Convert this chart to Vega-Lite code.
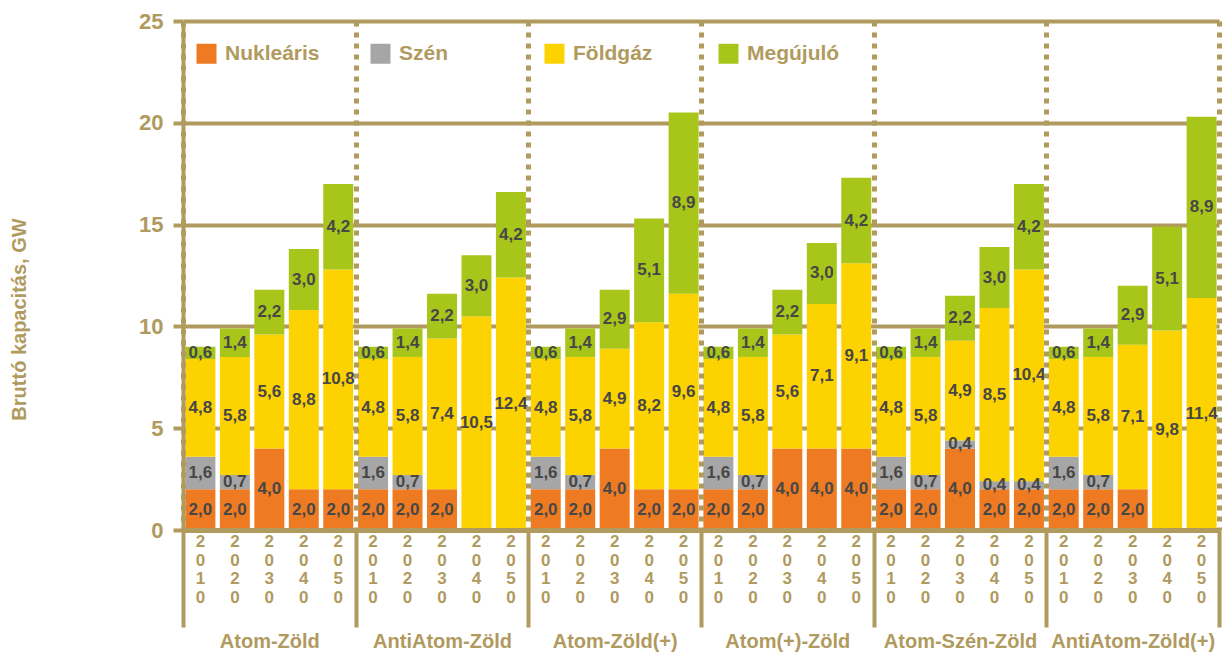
{
  "$schema": "https://vega.github.io/schema/vega-lite/v6.json",
  "width": 1036,
  "height": 509,
  "autosize": "none",
  "padding": {"left": 183, "top": 21, "right": 3, "bottom": 122},
  "background": "white",
  "config": {
    "view": {"stroke": null},
    "font": "Liberation Sans"
  },
  "data": {
    "values": [
      {"s": "Atom-Zöld", "y": "2010", "Nukleáris": 2.0, "Szén": 1.6, "Földgáz": 4.8, "Megújuló": 0.6},
      {"s": "Atom-Zöld", "y": "2020", "Nukleáris": 2.0, "Szén": 0.7, "Földgáz": 5.8, "Megújuló": 1.4},
      {"s": "Atom-Zöld", "y": "2030", "Nukleáris": 4.0, "Földgáz": 5.6, "Megújuló": 2.2},
      {"s": "Atom-Zöld", "y": "2040", "Nukleáris": 2.0, "Földgáz": 8.8, "Megújuló": 3.0},
      {"s": "Atom-Zöld", "y": "2050", "Nukleáris": 2.0, "Földgáz": 10.8, "Megújuló": 4.2},
      {"s": "AntiAtom-Zöld", "y": "2010", "Nukleáris": 2.0, "Szén": 1.6, "Földgáz": 4.8, "Megújuló": 0.6},
      {"s": "AntiAtom-Zöld", "y": "2020", "Nukleáris": 2.0, "Szén": 0.7, "Földgáz": 5.8, "Megújuló": 1.4},
      {"s": "AntiAtom-Zöld", "y": "2030", "Nukleáris": 2.0, "Földgáz": 7.4, "Megújuló": 2.2},
      {"s": "AntiAtom-Zöld", "y": "2040", "Földgáz": 10.5, "Megújuló": 3.0},
      {"s": "AntiAtom-Zöld", "y": "2050", "Földgáz": 12.4, "Megújuló": 4.2},
      {"s": "Atom-Zöld(+)", "y": "2010", "Nukleáris": 2.0, "Szén": 1.6, "Földgáz": 4.8, "Megújuló": 0.6},
      {"s": "Atom-Zöld(+)", "y": "2020", "Nukleáris": 2.0, "Szén": 0.7, "Földgáz": 5.8, "Megújuló": 1.4},
      {"s": "Atom-Zöld(+)", "y": "2030", "Nukleáris": 4.0, "Földgáz": 4.9, "Megújuló": 2.9},
      {"s": "Atom-Zöld(+)", "y": "2040", "Nukleáris": 2.0, "Földgáz": 8.2, "Megújuló": 5.1},
      {"s": "Atom-Zöld(+)", "y": "2050", "Nukleáris": 2.0, "Földgáz": 9.6, "Megújuló": 8.9},
      {"s": "Atom(+)-Zöld", "y": "2010", "Nukleáris": 2.0, "Szén": 1.6, "Földgáz": 4.8, "Megújuló": 0.6},
      {"s": "Atom(+)-Zöld", "y": "2020", "Nukleáris": 2.0, "Szén": 0.7, "Földgáz": 5.8, "Megújuló": 1.4},
      {"s": "Atom(+)-Zöld", "y": "2030", "Nukleáris": 4.0, "Földgáz": 5.6, "Megújuló": 2.2},
      {"s": "Atom(+)-Zöld", "y": "2040", "Nukleáris": 4.0, "Földgáz": 7.1, "Megújuló": 3.0},
      {"s": "Atom(+)-Zöld", "y": "2050", "Nukleáris": 4.0, "Földgáz": 9.1, "Megújuló": 4.2},
      {"s": "Atom-Szén-Zöld", "y": "2010", "Nukleáris": 2.0, "Szén": 1.6, "Földgáz": 4.8, "Megújuló": 0.6},
      {"s": "Atom-Szén-Zöld", "y": "2020", "Nukleáris": 2.0, "Szén": 0.7, "Földgáz": 5.8, "Megújuló": 1.4},
      {"s": "Atom-Szén-Zöld", "y": "2030", "Nukleáris": 4.0, "Szén": 0.4, "Földgáz": 4.9, "Megújuló": 2.2},
      {"s": "Atom-Szén-Zöld", "y": "2040", "Nukleáris": 2.0, "Szén": 0.4, "Földgáz": 8.5, "Megújuló": 3.0},
      {"s": "Atom-Szén-Zöld", "y": "2050", "Nukleáris": 2.0, "Szén": 0.4, "Földgáz": 10.4, "Megújuló": 4.2},
      {"s": "AntiAtom-Zöld(+)", "y": "2010", "Nukleáris": 2.0, "Szén": 1.6, "Földgáz": 4.8, "Megújuló": 0.6},
      {"s": "AntiAtom-Zöld(+)", "y": "2020", "Nukleáris": 2.0, "Szén": 0.7, "Földgáz": 5.8, "Megújuló": 1.4},
      {"s": "AntiAtom-Zöld(+)", "y": "2030", "Nukleáris": 2.0, "Földgáz": 7.1, "Megújuló": 2.9},
      {"s": "AntiAtom-Zöld(+)", "y": "2040", "Földgáz": 9.8, "Megújuló": 5.1},
      {"s": "AntiAtom-Zöld(+)", "y": "2050", "Földgáz": 11.4, "Megújuló": 8.9}
    ]
  },
  "transform": [
    {"fold": ["Nukleáris", "Szén", "Földgáz", "Megújuló"], "as": ["c", "v"]},
    {"filter": "datum.v > 0"},
    {"calculate": "indexof(['Nukleáris','Szén','Földgáz','Megújuló'], datum.c)", "as": "o"},
    {"stack": "v", "groupby": ["s", "y"], "sort": [{"field": "o", "order": "ascending"}], "as": ["v0", "v1"]},
    {"calculate": "(datum.v0 + datum.v1) / 2", "as": "mid"},
    {"calculate": "replace(format(datum.v, '.1f'), '.', ',')", "as": "lbl"}
  ],
  "encoding": {
    "x": {
      "field": "s",
      "type": "nominal",
      "sort": ["Atom-Zöld", "AntiAtom-Zöld", "Atom-Zöld(+)", "Atom(+)-Zöld", "Atom-Szén-Zöld", "AntiAtom-Zöld(+)"],
      "scale": {"paddingInner": 0, "paddingOuter": 0},
      "axis": {
        "title": null,
        "labelAngle": 0,
        "tickBand": "extent",
        "grid": true,
        "gridColor": "#B09A5E",
        "gridWidth": 5,
        "gridDash": [5, 6],
        "domainColor": "#B09A5E",
        "domainWidth": 5,
        "ticks": true,
        "tickColor": "#B09A5E",
        "tickWidth": 4,
        "tickSize": 97,
        "labelPadding": 4,
        "labelFont": "Liberation Sans",
        "labelFontSize": 20,
        "labelFontWeight": "bold",
        "labelColor": "#B09A5E",
        "labelLimit": 400,
        "labelOverlap": false,
        "labelFlush": false,
        "zindex": 1
      }
    },
    "xOffset": {
      "field": "y",
      "type": "nominal",
      "scale": {"paddingInner": 0.13, "paddingOuter": 0.07}
    }
  },
  "resolve": {"axis": {"y": "independent"}},
  "layer": [
    {
      "mark": {"type": "bar"},
      "encoding": {
        "y": {
          "field": "v0",
          "type": "quantitative",
          "scale": {"domain": [0, 25], "nice": false},
          "axis": {
            "orient": "left",
            "title": "Bruttó kapacitás, GW",
            "titleFont": "Liberation Sans",
            "titleFontSize": 20,
            "titleFontWeight": "bold",
            "titleColor": "#B09A5E",
            "titleX": -164,
            "titleY": 298,
            "titleAngle": -90,
            "titleBaseline": "middle",
            "titleAlign": "center",
            "values": [0, 5, 10, 15, 20, 25],
            "grid": false,
            "domainColor": "#B09A5E",
            "domainWidth": 4,
            "tickColor": "#B09A5E",
            "tickWidth": 4,
            "tickSize": 10,
            "labelPadding": 10,
            "labelFont": "Liberation Sans",
            "labelFontSize": 22,
            "labelFontWeight": "bold",
            "labelColor": "#B09A5E",
            "zindex": 2
          }
        },
        "y2": {"field": "v1"},
        "color": {
          "field": "c",
          "type": "nominal",
          "scale": {
            "domain": ["Nukleáris", "Szén", "Földgáz", "Megújuló"],
            "range": ["#EE7B22", "#A6A6A6", "#FCD200", "#A8C61A"]
          },
          "legend": {
            "title": null,
            "orient": "none",
            "legendX": 13,
            "legendY": 22,
            "direction": "horizontal",
            "columns": 4,
            "gridAlign": "all",
            "columnPadding": 50,
            "symbolType": "square",
            "symbolSize": 400,
            "symbolStrokeWidth": 0,
            "labelOffset": 8,
            "labelFont": "Liberation Sans",
            "labelFontSize": 21,
            "labelFontWeight": "bold",
            "labelColor": "#B09A5E"
          }
        }
      }
    },
    {
      "mark": {"type": "text", "font": "Liberation Sans", "fontSize": 17, "fontWeight": "bold", "color": "#474747", "baseline": "middle"},
      "encoding": {
        "y": {
          "field": "mid",
          "type": "quantitative",
          "axis": {
            "orient": "left",
            "title": null,
            "values": [0, 5, 10, 15, 20, 25],
            "grid": true,
            "gridColor": "#B09A5E",
            "gridWidth": 4,
            "domain": false,
            "ticks": false,
            "labels": false,
            "zindex": 0
          }
        },
        "text": {"field": "lbl", "type": "nominal"}
      }
    },
    {
      "transform": [
        {"filter": "datum.c == 'Földgáz'"},
        {"calculate": "split(datum.y, '')", "as": "yl"}
      ],
      "mark": {"type": "text", "font": "Liberation Sans", "fontSize": 17, "fontWeight": "bold", "color": "#B09A5E", "baseline": "top", "dy": 4, "lineHeight": 18.7},
      "encoding": {
        "y": {"datum": 0, "type": "quantitative", "axis": null},
        "text": {"field": "yl", "type": "nominal"}
      }
    }
  ]
}
